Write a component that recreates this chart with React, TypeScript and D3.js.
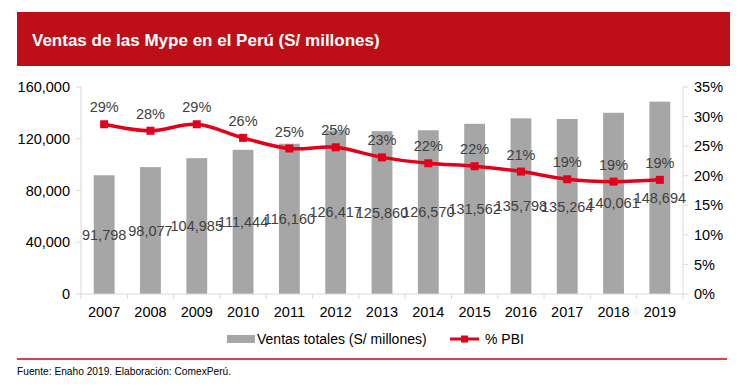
import React from 'react';
import * as d3 from 'd3';

const years = ['2007', '2008', '2009', '2010', '2011', '2012', '2013', '2014', '2015', '2016', '2017', '2018', '2019'];
const ventas = [91798, 98077, 104985, 111444, 116160, 126417, 125860, 126570, 131562, 135798, 135264, 140061, 148694];
const pbi = [0.287, 0.276, 0.287, 0.264, 0.246, 0.248, 0.231, 0.221, 0.216, 0.207, 0.194, 0.19, 0.193];
const leftTicks = [0, 40000, 80000, 120000, 160000];
const rightTicks = [0, 0.05, 0.1, 0.15, 0.2, 0.25, 0.3, 0.35];

const W = 747;
const H = 386;
const font = 'Arial, "Liberation Sans", sans-serif';
const red = '#e3001b';
const grey = '#a6a6a6';
const txt = '#404040';
const axisCol = '#d9d9d9';

const App = () => {
    const left = 81;
    const right = 683;
    const top = 87;
    const bottom = 294;

    const x = d3.scaleBand().domain(years).range([left, right]).paddingInner(0.55).paddingOuter(0.275);
    const band = d3.scaleBand().domain(years).range([left, right]);
    const yL = d3.scaleLinear().domain([0, 160000]).range([bottom, top]);
    const yR = d3.scaleLinear().domain([0, 0.35]).range([bottom, top]);
    const cx = (i) => (x(years[i]) as number) + x.bandwidth() / 2;

    const line = d3.line<number>()
        .x((_, i) => cx(i))
        .y((d) => yR(d))
        .curve(d3.curveCardinal.tension(0));

    const fmtN = d3.format(',');
    const fmtP = (v) => `${Math.round(v * 100)}%`;

    return (
        <svg width={W} height={H} style={{ position: 'absolute', left: 0, top: 0, fontFamily: font }}>
            <rect x={0} y={0} width={W} height={H} fill="#fff" />

            {/* cabecera */}
            <rect x={17} y={12} width={713} height={54} fill="#be0f18" />
            <text x={32} y={45.5} fill="#fff" fontSize={17} fontWeight="bold">
                Ventas de las Mype en el Perú (S/ millones)
            </text>

            {/* barras */}
            {ventas.map((v, i) => (
                <rect key={'b' + i} x={x(years[i])} y={yL(v)} width={x.bandwidth()} height={bottom - yL(v)} fill={grey} />
            ))}

            {/* ejes */}
            <line x1={left} x2={left} y1={top} y2={bottom} stroke={axisCol} />
            <line x1={right} x2={right} y1={top} y2={bottom} stroke={axisCol} />
            <line x1={left} x2={right} y1={bottom} y2={bottom} stroke={axisCol} />
            {years.map((y, i) => (
                <line key={'t' + i} x1={(band(y) as number) + band.bandwidth()} x2={(band(y) as number) + band.bandwidth()} y1={bottom} y2={bottom + 5} stroke={axisCol} />
            ))}
            <line x1={left} x2={left} y1={bottom} y2={bottom + 5} stroke={axisCol} />
            {leftTicks.map((t) => (
                <g key={'l' + t}>
                    <line x1={left - 5} x2={left} y1={yL(t)} y2={yL(t)} stroke={axisCol} />
                    <text x={left - 11} y={yL(t)} dy="0.35em" textAnchor="end" fontSize={14.5} fill="#000">{fmtN(t)}</text>
                </g>
            ))}
            {rightTicks.map((t) => (
                <g key={'r' + t}>
                    <line x1={right} x2={right + 5} y1={yR(t)} y2={yR(t)} stroke={axisCol} />
                    <text x={right + 11} y={yR(t)} dy="0.35em" textAnchor="start" fontSize={14.5} fill="#000">{fmtP(t)}</text>
                </g>
            ))}
            {years.map((y, i) => (
                <text key={'y' + i} x={cx(i)} y={312} dy="0.35em" textAnchor="middle" fontSize={14.5} fill="#000">{y}</text>
            ))}

            {/* etiquetas de barras */}
            {ventas.map((v, i) => (
                <text key={'bl' + i} x={cx(i)} y={(yL(v) + bottom) / 2} dy="0.35em" textAnchor="middle" fontSize={14.5} fill={txt}>{fmtN(v)}</text>
            ))}

            {/* linea % PBI */}
            <path d={line(pbi) as string} fill="none" stroke={red} strokeWidth={3.5} />
            {pbi.map((p, i) => (
                <rect key={'m' + i} x={cx(i) - 4} y={yR(p) - 4} width={8} height={8} fill={red} />
            ))}
            {pbi.map((p, i) => (
                <text key={'pl' + i} x={cx(i)} y={yR(p) - 17} dy="0.35em" textAnchor="middle" fontSize={14.5} fill={txt}>{fmtP(p)}</text>
            ))}

            {/* leyenda */}
            <rect x={227} y={335} width={28} height={8} fill={grey} />
            <text x={257} y={339} dy="0.35em" fontSize={14} fill="#000">Ventas totales (S/ millones)</text>
            <line x1={450} x2={479} y1={339} y2={339} stroke={red} strokeWidth={3} />
            <rect x={461} y={335.5} width={7} height={7} fill={red} />
            <text x={485} y={339} dy="0.35em" fontSize={14} fill="#000">% PBI</text>

            {/* pie */}
            <line x1={17} x2={727} y1={359} y2={359} stroke="#d2424f" strokeWidth={2} />
            <text x={17} y={375} fontSize={10.2} fill="#000">Fuente: Enaho 2019. Elaboración: ComexPerú.</text>
        </svg>
    );
};

export default App;
